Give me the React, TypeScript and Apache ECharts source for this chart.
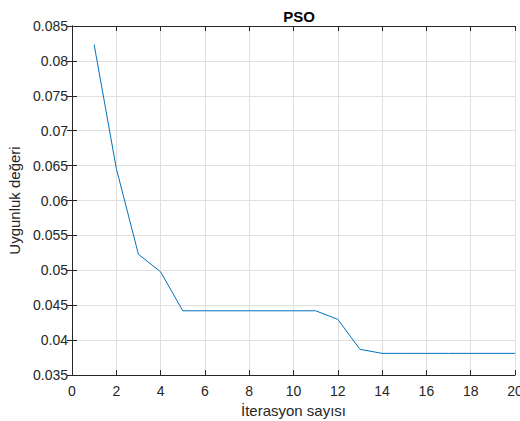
import React, { useEffect, useRef } from "react";
import * as echarts from "echarts";

const iterations = [1, 2, 3, 4, 5, 6, 7, 8, 9, 10, 11, 12, 13, 14, 15, 16, 17, 18, 19, 20];
const fitness = [
  0.08234, 0.0646, 0.05228, 0.04979, 0.0442, 0.0442, 0.0442, 0.0442, 0.0442, 0.0442,
  0.0442, 0.04297, 0.03868, 0.0381, 0.0381, 0.0381, 0.0381, 0.0381, 0.0381, 0.0381,
];
const titleText = "PSO";
const xName = "İterasyon sayısı";
const yName = "Uygunluk değeri";

const FONT = "'Liberation Sans', Arial, Helvetica, sans-serif";
const AX = "#262626";

export default function App() {
  const ref = useRef<HTMLDivElement>(null);
  useEffect(() => {
    const chart = echarts.init(ref.current!, null, { renderer: "svg" });
    const tickStyle = { show: true, inside: true, length: 5, lineStyle: { color: AX, width: 1 } };
    const split = { show: true, lineStyle: { color: "#dfdfdf", width: 1 } };
    chart.setOption({
      animation: false,
      backgroundColor: "#ffffff",
      title: {
        text: titleText,
        left: 294,
        top: 4,
        textAlign: "center",
        textStyle: { fontFamily: FONT, fontSize: 15, fontWeight: "bold", color: "#000" },
      },
      grid: { left: 72, right: 5, top: 26, bottom: 46, containLabel: false, outerBoundsMode: "none" },
      xAxis: [
        {
          type: "value",
          min: 0,
          max: 20,
          interval: 2,
          position: "bottom",
          name: xName,
          nameLocation: "middle",
          nameGap: 28,
          nameTextStyle: { fontFamily: FONT, fontSize: 15, color: AX },
          axisLine: { show: true, lineStyle: { color: AX, width: 1 } },
          axisTick: tickStyle,
          axisLabel: { fontFamily: FONT, fontSize: 14, color: AX, margin: 9, hideOverlap: false },
          splitLine: split,
        },
        {
          type: "value",
          min: 0,
          max: 20,
          interval: 2,
          position: "top",
          axisLine: { show: true, lineStyle: { color: AX, width: 1 } },
          axisTick: tickStyle,
          axisLabel: { show: false },
          splitLine: { show: false },
        },
      ],
      yAxis: [
        {
          type: "value",
          min: 0.035,
          max: 0.085,
          interval: 0.005,
          position: "left",
          name: yName,
          nameLocation: "middle",
          nameGap: 46,
          nameTextStyle: { fontFamily: FONT, fontSize: 15, color: AX },
          axisLine: { show: true, lineStyle: { color: AX, width: 1 } },
          axisTick: tickStyle,
          axisLabel: {
            fontFamily: FONT,
            fontSize: 14,
            color: AX,
            margin: 4,
            formatter: (v: number) => String(parseFloat(v.toFixed(3))),
          },
          splitLine: split,
        },
        {
          type: "value",
          min: 0.035,
          max: 0.085,
          interval: 0.005,
          position: "right",
          axisLine: { show: true, lineStyle: { color: AX, width: 1 } },
          axisTick: tickStyle,
          axisLabel: { show: false },
          splitLine: { show: false },
        },
      ],
      series: [
        {
          type: "line",
          data: iterations.map((x, i) => [x, fitness[i]]),
          showSymbol: false,
          symbol: "none",
          lineStyle: { color: "#0072BD", width: 1 },
          itemStyle: { color: "#0072BD" },
        },
      ],
    });
    return () => chart.dispose();
  }, []);
  return (
    <div
      ref={ref}
      style={{ position: "absolute", left: 0, top: 0, width: 520, height: 421, background: "#fff" }}
    />
  );
}
